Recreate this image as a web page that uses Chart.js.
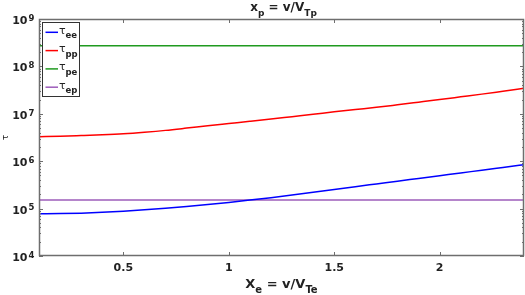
<!DOCTYPE html>
<html><head><meta charset="utf-8">
<script src="https://cdn.jsdelivr.net/npm/chart.js@4"></script>
<style>html,body{margin:0;padding:0;background:#fff}#c{display:block}</style>
</head><body>
<canvas id="c" width="525" height="295"></canvas>
<script>
const xValues = [0.1,0.2,0.3,0.4,0.5,0.6,0.7,0.8,0.9,1.0,1.1,1.2,1.3,1.4,1.5,1.6,1.7,1.8,1.9,2.0,2.1,2.2,2.3,2.4];
const tauEE = [7.80e4,7.85e4,8.02e4,8.34e4,8.81e4,9.42e4,1.016e5,1.107e5,1.216e5,1.349e5,1.510e5,1.702e5,1.932e5,2.203e5,2.523e5,2.897e5,3.311e5,3.784e5,4.325e5,4.943e5,5.649e5,6.457e5,7.379e5,8.433e5];
const tauPP = [3.29e6,3.35e6,3.47e6,3.61e6,3.80e6,4.09e6,4.47e6,4.99e6,5.6e6,6.24e6,6.95e6,7.76e6,8.71e6,9.77e6,1.10e7,1.23e7,1.37e7,1.55e7,1.76e7,2.0e7,2.28e7,2.6e7,2.99e7,3.44e7];
const tauPE = [2.73e8,2.73e8,2.73e8,2.73e8,2.73e8,2.73e8,2.73e8,2.73e8,2.73e8,2.73e8,2.73e8,2.73e8,2.73e8,2.73e8,2.73e8,2.73e8,2.73e8,2.73e8,2.73e8,2.73e8,2.73e8,2.73e8,2.73e8,2.73e8];
const tauEP = [1.52e5,1.52e5,1.52e5,1.52e5,1.52e5,1.52e5,1.52e5,1.52e5,1.52e5,1.52e5,1.52e5,1.52e5,1.52e5,1.52e5,1.52e5,1.52e5,1.52e5,1.52e5,1.52e5,1.52e5,1.52e5,1.52e5,1.52e5,1.52e5];
const seriesSubs = ['ee','pp','pe','ep'];
const seriesColors = ['#0000ff','#ff0000','#1f9a1f','#9d5cba'];
const xTicks = [0.5,1,1.5,2];
const yTickExps = [4,5,6,7,8,9];

const FONT = '"DejaVu Sans", sans-serif';
const allSeries = [tauEE, tauPP, tauPE, tauEP];

function drawRich(ctx, parts, cx, baseline){
  let total = 0;
  parts.forEach(p=>{ctx.font = 'bold '+p.s+'px '+FONT; p.w = ctx.measureText(p.t).width; total += p.w;});
  let x = cx - total/2;
  ctx.textAlign='left'; ctx.textBaseline='alphabetic';
  parts.forEach(p=>{ctx.font = 'bold '+p.s+'px '+FONT; ctx.fillText(p.t, x, baseline + (p.dy||0)); x += p.w;});
}

const deco = {
  id:'deco',
  afterDatasetsDraw(chart){
    const {ctx, chartArea:a, scales:{x,y}} = chart;
    ctx.save();
    ctx.strokeStyle = '#6e6e6e'; ctx.lineWidth = 1;
    ctx.beginPath();
    xTicks.forEach(v=>{
      const px = Math.round(x.getPixelForValue(v))+0.5;
      ctx.moveTo(px,a.bottom); ctx.lineTo(px,a.bottom-4);
      ctx.moveTo(px,a.top); ctx.lineTo(px,a.top+4);
    });
    for(let e=yTickExps[0]; e<=yTickExps[yTickExps.length-1]; e++){
      for(let m=1;m<=9;m++){
        if(e===yTickExps[yTickExps.length-1] && m>1) break;
        const py = Math.round(y.getPixelForValue(m*Math.pow(10,e)))+0.5;
        const len = m===1?4:2;
        ctx.moveTo(a.left,py); ctx.lineTo(a.left+len,py);
        ctx.moveTo(a.right,py); ctx.lineTo(a.right-len,py);
      }
    }
    ctx.stroke();
    ctx.lineWidth = 1.5;
    ctx.strokeRect(a.left+0.5, a.top+0.5, a.right-a.left-1, a.bottom-a.top-1);

    // legend
    const lx = a.left+3.5, ly = a.top+3.5;
    ctx.fillStyle = '#fff';
    ctx.fillRect(lx, ly, 37, 74);
    ctx.lineWidth = 1; ctx.strokeStyle = '#333';
    ctx.strokeRect(lx, ly, 37, 74);
    chart.data.datasets.forEach((ds,i)=>{
      const yy = ly + 9.8 + i*18.3;
      ctx.strokeStyle = ds.borderColor; ctx.lineWidth = 1.5;
      ctx.beginPath(); ctx.moveTo(lx+3, yy); ctx.lineTo(lx+15.5, yy); ctx.stroke();
      ctx.fillStyle = '#222';
      ctx.textAlign='left'; ctx.textBaseline='alphabetic';
      ctx.font = '11px '+FONT;
      ctx.fillText('τ', lx+16.5, yy+1.5);
      ctx.font = 'bold 8.5px '+FONT;
      ctx.fillText(seriesSubs[i], lx+23, yy+6);
    });

    // y tick labels
    ctx.fillStyle = '#222';
    yTickExps.forEach(e=>{
      const py = y.getPixelForValue(Math.pow(10,e));
      ctx.font = 'bold 11px '+FONT; ctx.textAlign='right'; ctx.textBaseline='alphabetic';
      ctx.fillText('10', 27.5, py+5);
      ctx.font = 'bold 8.5px '+FONT; ctx.textAlign='left';
      ctx.fillText(String(e), 28.5, py+1.8);
    });

    // title & axis label
    drawRich(ctx, [{t:'x',s:12},{t:'p',s:9,dy:5},{t:' = v/V',s:12},{t:'Tp',s:9,dy:5}], (a.left+a.right)/2+2, 11);
    drawRich(ctx, [{t:'X',s:13},{t:'e',s:10,dy:5},{t:' = v/V',s:13},{t:'Te',s:10,dy:5}], (a.left+a.right)/2, 287.5);

    ctx.save();
    ctx.translate(6, (a.top+a.bottom)/2);
    ctx.rotate(-Math.PI/2);
    ctx.font = '9px '+FONT; ctx.textAlign='center'; ctx.textBaseline='middle';
    ctx.fillText('τ', 0, 0);
    ctx.restore();
    ctx.restore();
  }
};

new Chart(document.getElementById('c'), {
  type:'line',
  data:{
    datasets: allSeries.map((s,i)=>({
      label: seriesSubs[i],
      data: xValues.map((xv,j)=>({x:xv, y:s[j]})),
      borderColor: seriesColors[i],
      borderWidth: 1.5,
      pointRadius: 0,
      fill:false,
      cubicInterpolationMode:'monotone'
    }))
  },
  options:{
    responsive:false, animation:false, devicePixelRatio:1,
    layout:{padding:{top:19,right:1,left:0,bottom:0}},
    plugins:{legend:{display:false}, tooltip:{enabled:false}, title:{display:false}},
    scales:{
      x:{type:'linear', min:0.1, max:2.4,
        afterBuildTicks:s=>{s.ticks = xTicks.map(v=>({value:v}));},
        afterFit:s=>{s.height = 39;},
        grid:{display:false, drawTicks:false}, border:{display:false},
        ticks:{padding:6, color:'#222', font:{family:FONT, size:11, weight:'bold'}, maxRotation:0,
          callback:v=>String(v)}},
      y:{type:'logarithmic', min:1e4, max:1e9,
        afterFit:s=>{s.width = 39;},
        grid:{display:false, drawTicks:false}, border:{display:false},
        ticks:{display:false}}
    }
  },
  plugins:[deco]
});
</script>
</body></html>
